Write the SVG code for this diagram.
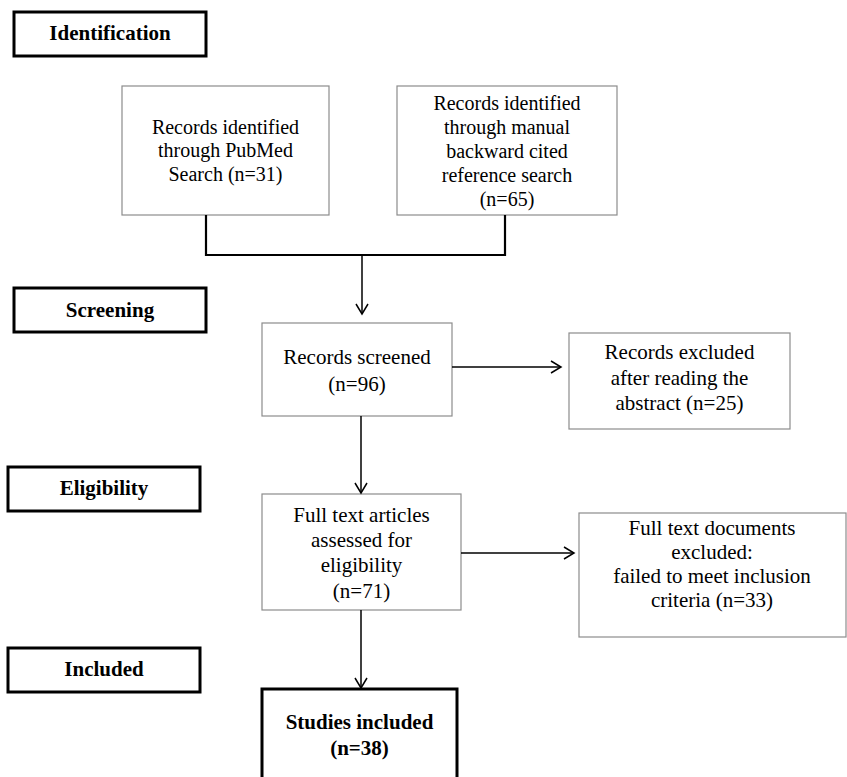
<svg xmlns="http://www.w3.org/2000/svg" width="847" height="777" viewBox="0 0 847 777">
<style>
.lab{fill:#fff;stroke:#000;stroke-width:3}
.nd{fill:#fff;stroke:#8c8c8c;stroke-width:1.2}
.fin{fill:#fff;stroke:#000;stroke-width:3}
.lt{font-family:"Liberation Serif",serif;font-weight:bold;font-size:21px;fill:#000;text-anchor:middle}
.t{font-family:"Liberation Serif",serif;font-size:21px;fill:#000;text-anchor:middle}
.t20{font-family:"Liberation Serif",serif;font-size:20px;fill:#000;text-anchor:middle}
.c{fill:none;stroke:#000;stroke-width:1.5}
.c2{fill:none;stroke:#000;stroke-width:2.2}
</style>
<defs>
<marker id="ah" markerWidth="16" markerHeight="16" refX="11" refY="7" orient="auto" markerUnits="userSpaceOnUse">
<path d="M1,1 L11,7 L1,13" fill="none" stroke="#000" stroke-width="1.5"/>
</marker>
</defs>
<rect width="847" height="777" fill="#fff"/>
<g id="label-identification"><rect class="lab" x="14" y="12" width="192" height="44"/><text class="lt" x="110" y="40">Identification</text></g>
<g id="label-screening"><rect class="lab" x="14" y="288" width="192" height="44"/><text class="lt" x="110" y="317">Screening</text></g>
<g id="label-eligibility"><rect class="lab" x="8" y="467" width="192" height="44"/><text class="lt" x="104" y="495">Eligibility</text></g>
<g id="label-included"><rect class="lab" x="8" y="648" width="192" height="44"/><text class="lt" x="104" y="676">Included</text></g>
<g id="node-pubmed"><rect class="nd" x="122" y="86" width="207" height="129"/>
<text class="t20" x="225.5"><tspan x="225.5" y="134">Records identified</tspan><tspan x="225.5" y="157">through PubMed</tspan><tspan x="225.5" y="181">Search (n=31)</tspan></text></g>
<g id="node-manual"><rect class="nd" x="397" y="86" width="220" height="129"/>
<text class="t20" x="507"><tspan x="507" y="110">Records identified</tspan><tspan x="507" y="134">through manual</tspan><tspan x="507" y="158">backward cited</tspan><tspan x="507" y="182">reference search</tspan><tspan x="507" y="206">(n=65)</tspan></text></g>
<g id="node-screened"><rect class="nd" x="262" y="323" width="190" height="93"/>
<text class="t"><tspan x="357" y="364">Records screened</tspan><tspan x="357" y="391">(n=96)</tspan></text></g>
<g id="node-excluded1"><rect class="nd" x="569" y="333" width="221" height="96"/>
<text class="t"><tspan x="679.5" y="359">Records excluded</tspan><tspan x="679.5" y="385">after reading the</tspan><tspan x="679.5" y="410">abstract (n=25)</tspan></text></g>
<g id="node-fulltext"><rect class="nd" x="262" y="494" width="199" height="116"/>
<text class="t"><tspan x="361.5" y="522">Full text articles</tspan><tspan x="361.5" y="547">assessed for</tspan><tspan x="361.5" y="572">eligibility</tspan><tspan x="361.5" y="598">(n=71)</tspan></text></g>
<g id="node-excluded2"><rect class="nd" x="579" y="513" width="267" height="124"/>
<text class="t"><tspan x="712" y="535">Full text documents</tspan><tspan x="712" y="559">excluded:</tspan><tspan x="712" y="583">failed to meet inclusion</tspan><tspan x="712" y="607">criteria (n=33)</tspan></text></g>
<g id="node-included"><rect class="fin" x="262" y="689" width="195" height="100"/>
<text class="lt"><tspan x="359.5" y="729">Studies included</tspan><tspan x="359.5" y="755">(n=38)</tspan></text></g>
<g id="connectors">
<path class="c2" d="M206,215 V255 H505 V215"/>
<path class="c" d="M362,255 V314" marker-end="url(#ah)"/>
<path class="c" d="M452,367 H561" marker-end="url(#ah)"/>
<path class="c" d="M361,416 V493" marker-end="url(#ah)"/>
<path class="c" d="M461,553 H574" marker-end="url(#ah)"/>
<path class="c" d="M361,610 V688" marker-end="url(#ah)"/>
</g>
</svg>
